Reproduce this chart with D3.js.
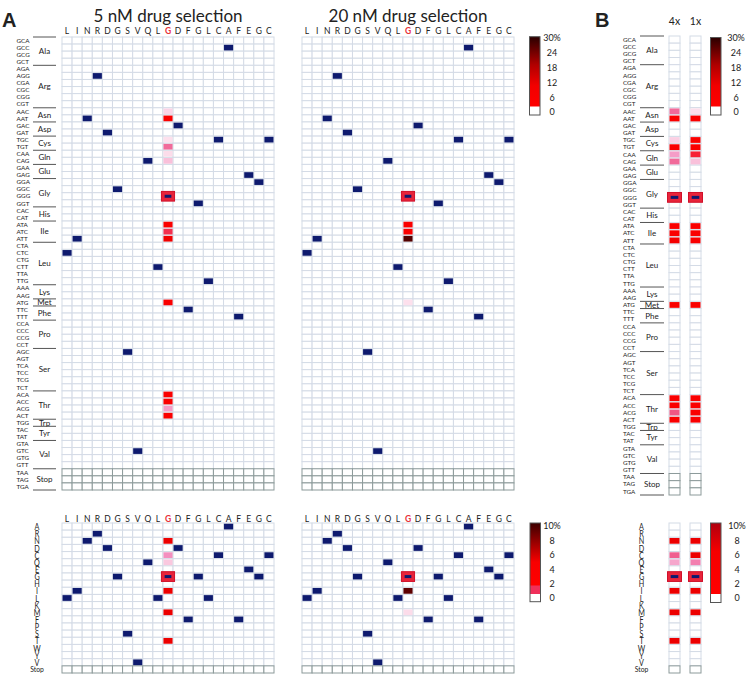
<!DOCTYPE html>
<html><head><meta charset="utf-8">
<script src="https://cdn.jsdelivr.net/npm/d3@7"></script>
<style>body{margin:0;background:#fff}svg{display:block}text{font-family:Lato,"Open Sans",sans-serif;fill:#222}</style>
</head><body><svg id="c" width="750" height="677"></svg>
<script>
// ---------------- DATA ----------------
const columnAA = ["L","I","N","R","D","G","S","V","Q","L","G","D","F","G","L","C","A","F","E","G","C"];
const mutatedColumn = 10;
const wildTypeCodons = ["CTC","ATT","AAT","AGG","GAT","GGC","AGC","GTC","CAG","CTT","GGG","GAC","TTC","GGT","TTG","TGC","GCC","TTT","GAG","GGA","TGC"];
const codons = ["GCA","GCC","GCG","GCT","AGA","AGG","CGA","CGC","CGG","CGT","AAC","AAT","GAC","GAT","TGC","TGT","CAA","CAG","GAA","GAG","GGA","GGC","GGG","GGT","CAC","CAT","ATA","ATC","ATT","CTA","CTC","CTG","CTT","TTA","TTG","AAA","AAG","ATG","TTC","TTT","CCA","CCC","CCG","CCT","AGC","AGT","TCA","TCC","TCG","TCT","ACA","ACC","ACG","ACT","TGG","TAC","TAT","GTA","GTC","GTG","GTT","TAA","TAG","TGA"];
const codonGroupNames = ["Ala","Arg","Asn","Asp","Cys","Gln","Glu","Gly","His","Ile","Leu","Lys","Met","Phe","Pro","Ser","Thr","Trp","Tyr","Val","Stop"];
const codonGroupSizes = [4,6,2,2,2,2,2,4,2,3,6,2,1,2,4,6,4,1,2,4,3];
const stopCodons = ["TAA","TAG","TGA"];
const aminoRows = ["A","R","N","D","C","Q","E","G","H","I","L","K","M","F","P","S","T","W","Y","V","Stop"];

// codon-level frequencies (%) at the mutated position
const sel5Codons = ["AAC","AAT","TGC","TGT","CAA","CAG","ATA","ATC","ATT","ATG","ACA","ACC","ACG","ACT"];
const sel5Values = [0.9, 7, 0.6, 3.2, 0.7, 1.4, 7, 4.5, 9, 7, 7, 7, 2.2, 7];
const sel20Codons = ["ATA","ATC","ATT","ATG"];
const sel20Values = [7, 7, 26, 0.6];
const panelBCodons = ["AAC","AAT","TGC","TGT","CAA","CAG","ATA","ATC","ATT","ATG","ACA","ACC","ACG","ACT"];
const b4xValues = [3.2, 7, 1.0, 7, 2.2, 3.2, 7, 7, 8, 7, 7, 7, 3.6, 7];
const b1xValues = [0.6, 7, 7, 7, 5, 1.4, 7, 7, 7, 7, 7, 7, 7, 7];

// amino-acid-level frequencies (%)
const aaSel5 = ["N","C","Q","I","M","T"];
const aaSel5Values = [5, 2.5, 1.2, 5, 5, 5];
const aaSel20 = ["I","M"];
const aaSel20Values = [9, 0.7];
const aaB = ["N","C","Q","I","M","T"];
const aaB4xValues = [5, 3.4, 2.0, 5, 5, 5];
const aaB1xValues = [5, 5, 2.8, 5, 5, 5];

const codonTicks = [0, 6, 12, 18, 24, 30];
const aaTicks = [0, 2, 4, 6, 8, 10];
const panelBColumns = ["4x","1x"];

// ---------------- STYLE ----------------
const NAVY = "#0e1a6e", GRID = "#d4dbe6", STOPGRID = "#8c9a9a";
const codonColor = d3.scaleLinear()
  .domain([0, 0.5, 1.5, 2.5, 3.5, 4.5, 6, 12, 30])
  .range(["#ffffff","#fde4ef","#f8bcd8","#f48fbf","#f05a8a","#f3304f","#ff0000","#e00000","#2a0000"]).clamp(true);
const aaColor = d3.scaleLinear()
  .domain([0, 0.5, 1.5, 2.5, 3.5, 4.5, 10])
  .range(["#ffffff","#fde4ef","#f8bcd8","#f48fbf","#f05a8a","#ff0000","#3a0000"]).clamp(true);

const svg = d3.select("#c");

function drawGrid(g, x, y, cols, rows, stopRows) {
  const normal = [], stop = [];
  cols.forEach(c => rows.forEach(r => (stopRows.includes(r) ? stop : normal).push([c, r])));
  g.append("g").selectAll("rect").data(normal).join("rect")
    .attr("x", d => x(d[0])).attr("y", d => y(d[1]))
    .attr("width", x.bandwidth()).attr("height", y.bandwidth())
    .attr("fill", "#fff").attr("stroke", GRID).attr("stroke-width", 1);
  g.append("g").selectAll("rect").data(stop).join("rect")
    .attr("x", d => x(d[0])).attr("y", d => y(d[1]))
    .attr("width", x.bandwidth()).attr("height", y.bandwidth())
    .attr("fill", "#fff").attr("stroke", STOPGRID).attr("stroke-width", 1);
}
function cell(g, x, y, c, r, fill) {
  g.append("rect").attr("x", x(c) + 0.5).attr("y", y(r) + 0.7)
    .attr("width", x.bandwidth() - 1).attr("height", y.bandwidth() - 1.4).attr("fill", fill);
}
function special(g, x, y, c, r) {
  const bw = x.bandwidth(), bh = y.bandwidth();
  g.append("rect").attr("x", x(c) - 1.5).attr("y", y(r) - 1.3)
    .attr("width", bw + 3).attr("height", bh + 2.6)
    .attr("fill", "#e8243a").attr("stroke", "#d0102a").attr("stroke-width", 1);
  g.append("rect").attr("x", x(c) + 1.7).attr("y", y(r) + bh / 2 - 1.5)
    .attr("width", bw - 3.4).attr("height", 3).attr("fill", NAVY);
}
function colHeader(g, x, yb) {
  g.append("g").selectAll("text").data(d3.range(columnAA.length)).join("text")
    .attr("x", i => x(i) + x.bandwidth() / 2).attr("y", yb)
    .attr("text-anchor", "middle").attr("font-size", 8.5)
    .style("font-weight", i => i === mutatedColumn ? "bold" : null)
    .style("fill", i => i === mutatedColumn ? "#e8303a" : "#222")
    .text(i => columnAA[i]);
}
function codonLabels(g, y, xText, xLine0, xLine1, xGroup) {
  g.append("g").selectAll("text").data(codons).join("text")
    .attr("x", xText).attr("y", d => y(d) + y.bandwidth() / 2 + 2.2)
    .attr("font-size", 6.3).text(d => d);
  let start = 0;
  const bounds = [];
  codonGroupSizes.forEach((n, i) => {
    const r0 = y(codons[start]), r1 = y(codons[start + n - 1]) + y.bandwidth();
    bounds.push(r0);
    if (i === codonGroupSizes.length - 1) bounds.push(r1);
    g.append("text").attr("x", xGroup).attr("y", (r0 + r1) / 2 + 2.8)
      .attr("text-anchor", "middle").attr("font-size", 8).text(codonGroupNames[i]);
    start += n;
  });
  g.append("g").selectAll("line").data(bounds).join("line")
    .attr("x1", xLine0).attr("x2", xLine1).attr("y1", d => d).attr("y2", d => d)
    .attr("stroke", "#555").attr("stroke-width", 1);
}
function aaLabels(g, y, xc) {
  g.append("g").selectAll("text").data(aminoRows).join("text")
    .attr("transform", d => `translate(${xc},${y(d) + y.bandwidth() / 2 + (d === "Stop" ? 2.3 : 3.6)}) scale(${d === "Stop" ? 1 : 0.72},1)`)
    .attr("text-anchor", "middle").attr("font-size", d => d === "Stop" ? 6.8 : 10).text(d => d);
}
function legend(id, x0, y0, y1, whiteTop, stops, ticks, tickScale, labelX) {
  const defs = svg.append("defs");
  const gr = defs.append("linearGradient").attr("id", id).attr("x1", 0).attr("x2", 0).attr("y1", 1).attr("y2", 0);
  stops.forEach(s => gr.append("stop").attr("offset", s[0]).attr("stop-color", s[1]));
  svg.append("rect").attr("x", x0).attr("y", y0).attr("width", 10.5).attr("height", whiteTop - y0)
    .attr("fill", `url(#${id})`);
  svg.append("rect").attr("x", x0).attr("y", whiteTop).attr("width", 10.5).attr("height", y1 - whiteTop).attr("fill", "#fff");
  svg.append("rect").attr("x", x0).attr("y", y0).attr("width", 10.5).attr("height", y1 - y0)
    .attr("fill", "none").attr("stroke", "#555").attr("stroke-width", 1);
  const mx = d3.max(ticks);
  svg.append("g").selectAll("text").data(ticks).join("text")
    .attr("x", labelX).attr("y", d => tickScale(d) + 3.3).attr("text-anchor", "middle")
    .attr("font-size", 9).text(d => d === mx ? d + "%" : d);
}

// ---------------- PANEL A (codons) ----------------
const codonY = d3.scaleBand().domain(codons).range([37, 490]);
const panelsA = [
  {x0: 62, x1: 274, title: "5 nM drug selection", sel: sel5Codons, vals: sel5Values, aa: aaSel5, aaVals: aaSel5Values},
  {x0: 302, x1: 514, title: "20 nM drug selection", sel: sel20Codons, vals: sel20Values, aa: aaSel20, aaVals: aaSel20Values}
];
const aaY = d3.scaleBand().domain(aminoRows).range([523, 673]);

panelsA.forEach(p => {
  const x = d3.scaleBand().domain(d3.range(columnAA.length)).range([p.x0, p.x1]);
  const g = svg.append("g");
  g.append("text").attr("x", (p.x0 + p.x1) / 2).attr("y", 21.5).attr("text-anchor", "middle")
    .attr("font-size", 17).text(p.title);
  colHeader(g, x, 34.3);
  drawGrid(g, x, codonY, d3.range(columnAA.length), codons, stopCodons);
  p.sel.forEach((c, i) => cell(g, x, codonY, mutatedColumn, c, codonColor(p.vals[i])));
  wildTypeCodons.forEach((c, i) => {
    if (i === mutatedColumn) special(g, x, codonY, i, c);
    else cell(g, x, codonY, i, c, NAVY);
  });
  // amino acid view
  const g2 = svg.append("g");
  colHeader(g2, x, 521.5);
  drawGrid(g2, x, aaY, d3.range(columnAA.length), aminoRows, ["Stop"]);
  p.aa.forEach((a, i) => cell(g2, x, aaY, mutatedColumn, a, aaColor(p.aaVals[i])));
  columnAA.forEach((a, i) => {
    if (i === mutatedColumn) special(g2, x, aaY, i, a);
    else cell(g2, x, aaY, i, a, NAVY);
  });
});
codonLabels(svg.append("g"), codonY, 16.5, 33, 56, 44.5);
aaLabels(svg.append("g"), aaY, 37);

// ---------------- PANEL B ----------------
const bx = d3.scaleBand().domain(panelBColumns).range([669, 701]).paddingInner(0.476);
const codonYB = d3.scaleBand().domain(codons).range([36, 495]);
const gB = svg.append("g");
gB.selectAll("text.h").data(panelBColumns).join("text")
  .attr("x", d => bx(d) + bx.bandwidth() / 2).attr("y", 25).attr("text-anchor", "middle")
  .attr("font-size", 10.5).text(d => d);
drawGrid(gB, bx, codonYB, panelBColumns, codons, stopCodons);
panelBCodons.forEach((c, i) => {
  cell(gB, bx, codonYB, "4x", c, codonColor(b4xValues[i]));
  cell(gB, bx, codonYB, "1x", c, codonColor(b1xValues[i]));
});
panelBColumns.forEach(col => special(gB, bx, codonYB, col, wildTypeCodons[mutatedColumn]));
codonLabels(svg.append("g"), codonYB, 623, 640, 664, 652);

const gB2 = svg.append("g");
drawGrid(gB2, bx, aaY, panelBColumns, aminoRows, ["Stop"]);
aaB.forEach((a, i) => {
  cell(gB2, bx, aaY, "4x", a, aaColor(aaB4xValues[i]));
  cell(gB2, bx, aaY, "1x", a, aaColor(aaB1xValues[i]));
});
panelBColumns.forEach(col => special(gB2, bx, aaY, col, columnAA[mutatedColumn]));
aaLabels(svg.append("g"), aaY, 641.5);

// ---------------- LEGENDS ----------------
const topTick = d3.scaleLinear().domain([0, 30]).range([112, 38]);
const botTick = d3.scaleLinear().domain([0, 10]).range([598, 526]);
const darkStops = [[0, "#ff0000"], [0.3, "#f20000"], [0.6, "#b00000"], [1, "#2a0000"]];
legend("gA1", 529.5, 36.7, 115, 106.7, darkStops, codonTicks, topTick, 552);
legend("gB1", 710.5, 37.5, 115, 106.7, darkStops, codonTicks, topTick, 736);
legend("gA2", 530, 523, 601.7, 594, [[0, "#f0305a"], [0.11, "#f0305a"], [0.13, "#ff0000"], [0.45, "#f80000"], [1, "#3c0000"]], aaTicks, botTick, 552);
legend("gB2", 710.5, 523, 602.5, 594, [[0, "#ff0000"], [0.6, "#f60000"], [1, "#b0000e"]], aaTicks, botTick, 737);

// panel letters
svg.append("text").attr("x", 2).attr("y", 27).attr("font-size", 20).style("font-weight", "bold")
  .style("font-family", "'Liberation Sans',Arial,sans-serif").text("A");
svg.append("text").attr("x", 595).attr("y", 27).attr("font-size", 20).style("font-weight", "bold")
  .style("font-family", "'Liberation Sans',Arial,sans-serif").text("B");
</script></body></html>
